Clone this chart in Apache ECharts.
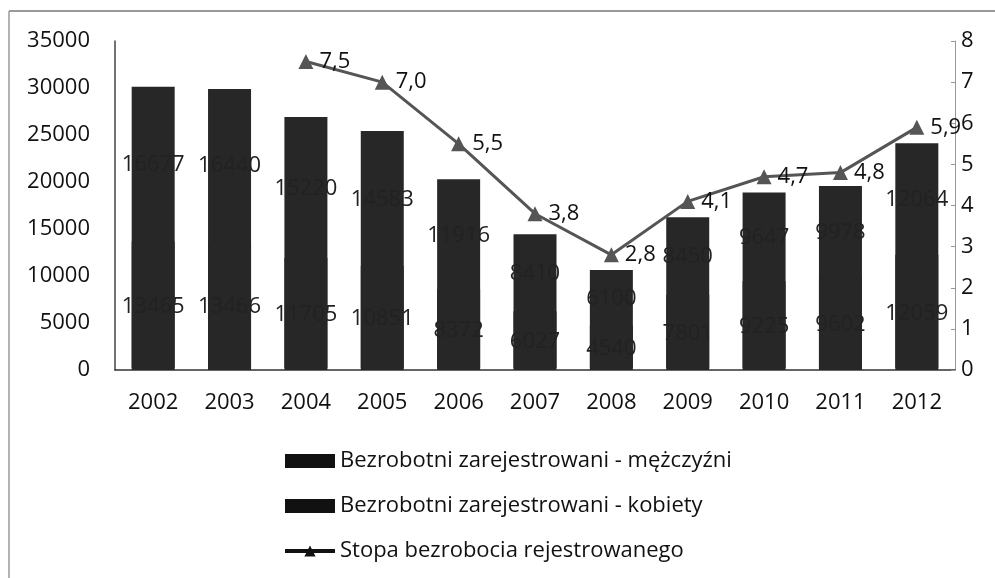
<!DOCTYPE html>
<html>
<head>
<meta charset="utf-8">
<script src="https://cdn.jsdelivr.net/npm/echarts@6/dist/echarts.min.js"></script>
<style>
  html, body { margin: 0; padding: 0; background: #fff; }
  #chart { width: 995px; height: 578px; }
</style>
</head>
<body>
<div id="chart"></div>
<script>
var years = ['2002', '2003', '2004', '2005', '2006', '2007', '2008', '2009', '2010', '2011', '2012'];
var men = [13465, 13466, 11705, 10851, 8372, 6027, 4540, 7801, 9225, 9602, 12059];
var women = [16677, 16440, 15220, 14583, 11916, 8410, 6100, 8450, 9647, 9978, 12064];
var rate = [null, null, 7.5, 7.0, 5.5, 3.8, 2.8, 4.1, 4.7, 4.8, 5.9];

var font = '"Open Sans", "DejaVu Sans", sans-serif';
var fs = 22;
var chart = echarts.init(document.getElementById('chart'));

var barLabel = {
  show: true,
  position: 'inside',
  color: '#222',
  fontSize: fs,
  textBorderWidth: 0,
  fontFamily: font
};

var option = {
  animation: false,
  textStyle: { fontFamily: font },
  graphic: [
    { type: 'line', shape: { x1: 9, y1: 11, x2: 995, y2: 11 }, style: { stroke: '#777', lineWidth: 1.5 } },
    { type: 'line', shape: { x1: 9, y1: 11, x2: 9, y2: 578 }, style: { stroke: '#999', lineWidth: 1.5 } }
  ],
  grid: { left: 115, right: 40, top: 41, bottom: 208 },
  legend: {
    orient: 'vertical',
    left: 278,
    top: 445,
    itemWidth: 50,
    itemHeight: 14,
    itemGap: 23,
    itemStyle: { borderWidth: 0 },
    textStyle: { fontSize: fs, color: '#111', fontFamily: font },
    data: [
      { name: 'Bezrobotni zarejestrowani - mężczyźni', icon: 'rect', itemStyle: { color: '#111', borderWidth: 0 } },
      { name: 'Bezrobotni zarejestrowani - kobiety', icon: 'rect', itemStyle: { color: '#111', borderWidth: 0 } },
      { name: 'Stopa bezrobocia rejestrowanego', itemStyle: { color: '#111', borderWidth: 0 }, lineStyle: { color: '#111', width: 4 } }
    ]
  },
  xAxis: {
    type: 'category',
    data: years,
    axisLine: { lineStyle: { color: '#333', width: 1.5 } },
    axisTick: { show: false },
    axisLabel: { fontSize: fs, color: '#111', margin: 22 }
  },
  yAxis: [
    {
      type: 'value',
      min: 0, max: 35000, interval: 5000,
      axisLine: { show: true, lineStyle: { color: '#444', width: 1.5 } },
      axisTick: { show: false },
      splitLine: { show: false },
      axisLabel: { fontSize: fs, color: '#111', margin: 25, formatter: function (v) { return String(v); } }
    },
    {
      type: 'value',
      min: 0, max: 8, interval: 1,
      position: 'right',
      axisLine: { show: true, lineStyle: { color: '#999', width: 1 } },
      axisTick: { show: true, inside: true, length: 4, lineStyle: { color: '#999' } },
      splitLine: { show: false },
      axisLabel: { fontSize: fs, color: '#111', margin: 6 }
    }
  ],
  series: [
    {
      name: 'Bezrobotni zarejestrowani - mężczyźni',
      type: 'bar',
      stack: 'total',
      barWidth: 43,
      // shadow pushed upward hides the anti-aliased seam between stacked parts
      itemStyle: { color: '#272727', shadowColor: '#272727', shadowBlur: 0, shadowOffsetY: -2 },
      label: barLabel,
      data: men
    },
    {
      name: 'Bezrobotni zarejestrowani - kobiety',
      type: 'bar',
      stack: 'total',
      barWidth: 43,
      itemStyle: { color: '#272727' },
      label: barLabel,
      data: women
    },
    {
      name: 'Stopa bezrobocia rejestrowanego',
      type: 'line',
      yAxisIndex: 1,
      symbol: 'triangle',
      symbolSize: 15,
      lineStyle: { color: '#555', width: 3 },
      itemStyle: { color: '#555' },
      label: {
        show: true,
        position: 'right',
        distance: 6,
        color: '#111',
        fontSize: fs,
        formatter: function (p) { return p.value.toFixed(1).replace('.', ','); }
      },
      data: rate
    }
  ]
};

chart.setOption(option);
</script>
</body>
</html>
